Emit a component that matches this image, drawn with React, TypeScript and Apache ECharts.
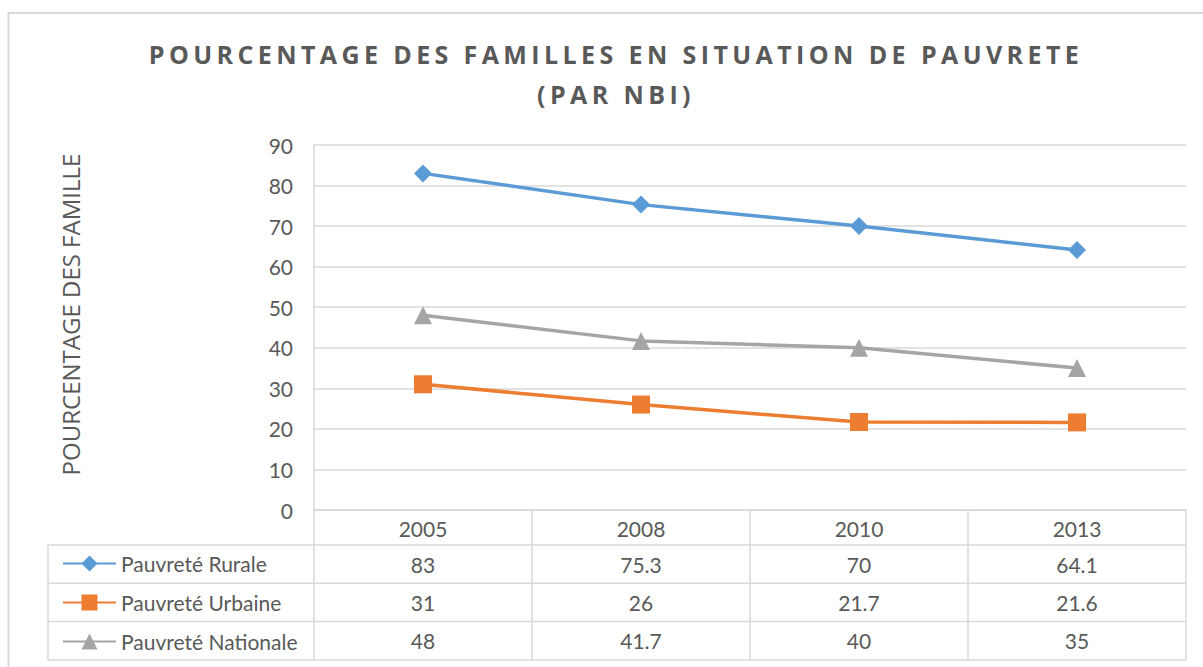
import React, { useEffect, useRef } from "react";
import * as echarts from "echarts";

const categories = ["2005", "2008", "2010", "2013"];
const seriesNames = ["Pauvreté Rurale", "Pauvreté Urbaine", "Pauvreté Nationale"];
const rurale = [83, 75.3, 70, 64.1];
const urbaine = [31, 26, 21.7, 21.6];
const nationale = [48, 41.7, 40, 35];
const yTicks = { min: 0, max: 90, interval: 10 };
const titleLines = ["POURCENTAGE DES FAMILLES EN SITUATION DE PAUVRETE", "(PAR NBI)"];
const yAxisTitle = "POURCENTAGE DES FAMILLE";

const colors = ["#5b9bd5", "#ed7d31", "#a5a5a5"];
const symbols = ["diamond", "rect", "triangle"];
const TEXT = "#595959";
const GRID = "#d9d9d9";
const FONT = "Lato, 'Open Sans', sans-serif";
const FS = 21;

export default function App() {
  const ref = useRef<HTMLDivElement>(null);
  useEffect(() => {
    document.body.style.margin = "0";
    const chart = echarts.init(ref.current!, null, { renderer: "svg" });
    const allData = [rurale, urbaine, nationale];
    chart.setOption({
      animation: false,
      backgroundColor: "#ffffff",
      title: {
        text: titleLines.join("\n"),
        left: 611,
        textAlign: "center",
        top: 29,
        textStyle: {
          fontFamily: "'Open Sans', sans-serif",
          fontWeight: "bold",
          fontSize: 25,
          color: TEXT,
          lineHeight: 40,
        },
      },
      grid: { left: 314, right: 17, top: 145, bottom: 157, containLabel: false },
      legend: {
        orient: "vertical",
        left: 62,
        top: 553,
        padding: 0,
        itemWidth: 53,
        itemHeight: 20,
        itemGap: 18,
        textStyle: { fontFamily: FONT, fontSize: FS, color: TEXT, lineHeight: 20 },
        data: seriesNames,
        selectedMode: false,
      },
      xAxis: {
        type: "category",
        data: categories,
        boundaryGap: true,
        axisLine: { show: true, lineStyle: { color: GRID, width: 1.5 } },
        axisTick: { show: false },
        axisLabel: { fontFamily: FONT, fontSize: FS, color: TEXT, margin: 8 },
      },
      yAxis: {
        type: "value",
        min: yTicks.min,
        max: yTicks.max,
        interval: yTicks.interval,
        name: yAxisTitle,
        nameLocation: "middle",
        nameGap: 232,
        nameTextStyle: { fontFamily: "'Open Sans', sans-serif", fontSize: 24, color: TEXT, padding: [0, 0, 0, 26] },
        axisLine: { show: true, lineStyle: { color: GRID, width: 1.5 } },
        axisTick: { show: false },
        axisLabel: { fontFamily: FONT, fontSize: FS, color: TEXT, margin: 21 },
        splitLine: { lineStyle: { color: GRID, width: 1.5 } },
      },
      series: seriesNames.map((name, i) => ({
        name,
        type: "line",
        data: allData[i],
        symbol: symbols[i],
        symbolSize: 18,
        lineStyle: { color: colors[i], width: 3.5 },
        itemStyle: { color: colors[i] },
        emphasis: { disabled: true },
      })),
    });

    // Build data table from axis geometry
    const centers = categories.map((c) => chart.convertToPixel({ xAxisIndex: 0 }, c) as number);
    const step = centers[1] - centers[0];
    const bounds = [centers[0] - step / 2, ...centers.map((c) => c + step / 2)];
    const y0 = chart.convertToPixel({ yAxisIndex: 0 }, 0) as number;
    const headerH = 35;
    const rowH = 38.3;
    const tableLeft = 48;
    const rowTops = seriesNames.map((_, i) => y0 + headerH + i * rowH);
    const tableBottom = y0 + headerH + seriesNames.length * rowH;
    const graphic: any[] = [];
    const ls = { stroke: GRID, lineWidth: 1.5 };
    bounds.forEach((x) => {
      graphic.push({ type: "line", shape: { x1: x, y1: y0, x2: x, y2: tableBottom }, style: ls, silent: true });
    });
    graphic.push({ type: "line", shape: { x1: tableLeft, y1: rowTops[0], x2: tableLeft, y2: tableBottom }, style: ls, silent: true });
    [...rowTops, tableBottom].forEach((y) => {
      graphic.push({ type: "line", shape: { x1: tableLeft, y1: y, x2: bounds[bounds.length - 1], y2: y }, style: ls, silent: true });
    });
    allData.forEach((arr, r) => {
      arr.forEach((v, c) => {
        graphic.push({
          type: "text",
          x: centers[c],
          y: rowTops[r] + rowH / 2,
          silent: true,
          style: {
            text: String(v),
            fontFamily: FONT,
            fontSize: FS,
            fill: TEXT,
            align: "center",
            verticalAlign: "middle",
          },
        });
      });
    });
    graphic.push({
      type: "rect",
      shape: { x: 8.5, y: 13, width: 1230, height: 700 },
      style: { fill: "none", stroke: GRID, lineWidth: 2 },
      silent: true,
    });
    chart.setOption({ graphic });

    // letter spacing for title (as in the original)
    const applySpacing = () => {
      const texts = ref.current?.querySelectorAll("text") || [];
      texts.forEach((t) => {
        const s = t.textContent || "";
        if (titleLines.some((l) => s.indexOf(l) >= 0)) {
          (t as SVGTextElement).setAttribute("letter-spacing", "4.4");
        }
      });
    };
    applySpacing();
    chart.on("finished", applySpacing);

    return () => chart.dispose();
  }, []);
  return <div ref={ref} style={{ width: 1203, height: 667 }} />;
}
